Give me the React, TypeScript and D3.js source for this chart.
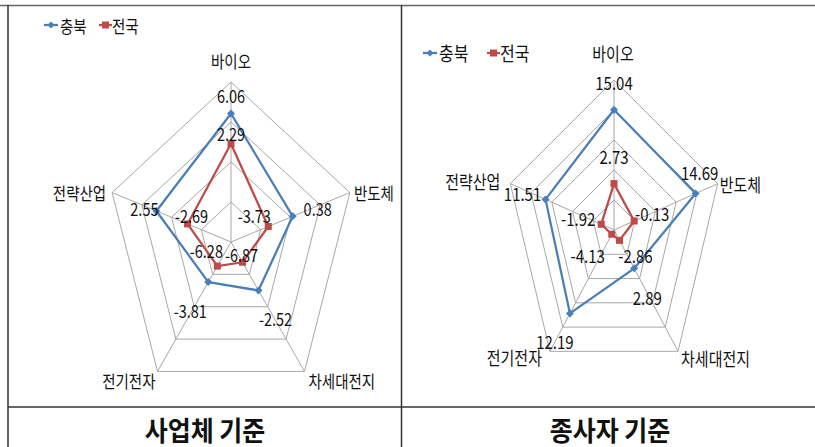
import React from "react";
import * as d3 from "d3";

const axes = ["바이오", "반도체", "차세대전지", "전기전자", "전략산업"];
const seriesNames = ["충북", "전국"];
const bizChungbuk = [6.06, 0.38, -2.52, -3.81, 2.55];
const bizNational = [2.29, -3.73, -6.87, -6.28, -2.69];
const empChungbuk = [15.04, 14.69, 2.89, 12.19, 11.51];
const empNational = [2.73, -0.13, -2.86, -4.13, -1.92];
const bizDomain = [-10, 10];
const empDomain = [-5, 20];
const tickStep = 5;
const titles = ["사업체 기준", "종사자 기준"];

const BLUE = "#4A7EBB";
const RED = "#BE4B48";
const GRID = "#A8A8A8";
const FONT = "'Noto Sans CJK KR', 'Noto Sans', sans-serif";

type Pt = [number, number];

function T(props: { x: number; y: number; anchor?: string; fs: number; sy?: number; bold?: boolean; children: React.ReactNode }) {
  const sy = props.sy ?? 1.2;
  return (
    <text
      transform={`translate(${props.x},${props.y}) scale(1,${sy})`}
      textAnchor={props.anchor ?? "middle"}
      dominantBaseline="central"
      fontSize={props.fs}
      fontWeight={props.bold ? "bold" : "normal"}
      fontFamily={FONT}
      fill="#111"
    >
      {props.children}
    </text>
  );
}

interface RadarProps {
  cx: number; cy: number; rx: number; ry: number;
  domain: number[];
  s1: number[]; s2: number[];
  off1: Pt[]; off2: Pt[];
  axisOff: { dx: number; dy: number; anchor: string }[];
  fs: number;
  legend: { x: number; y: number; fs: number; gap: number };
}

function Radar(p: RadarProps) {
  const f = d3.scaleLinear().domain(p.domain).range([0, 1]);
  const ang = d3.scaleLinear().domain([0, axes.length]).range([-Math.PI / 2, (3 * Math.PI) / 2]);
  const pos = (i: number, frac: number): Pt => [
    p.cx + p.rx * frac * Math.cos(ang(i)),
    p.cy + p.ry * frac * Math.sin(ang(i)),
  ];
  const ticks = d3.range(p.domain[0] + tickStep, p.domain[1] + 0.001, tickStep);
  const closed = d3.line<Pt>().curve(d3.curveLinearClosed);
  const pts1 = p.s1.map((v, i) => pos(i, f(v)));
  const pts2 = p.s2.map((v, i) => pos(i, f(v)));
  const L = p.legend;
  return (
    <g>
      {ticks.map((t) => (
        <path key={t} d={closed(axes.map((_, i) => pos(i, f(t))))!} fill="none" stroke={GRID} strokeWidth={1} />
      ))}
      {axes.map((_, i) => {
        const [x, y] = pos(i, 1);
        return <line key={i} x1={p.cx} y1={p.cy} x2={x} y2={y} stroke={GRID} strokeWidth={1} />;
      })}
      <path d={closed(pts1)!} fill="none" stroke={BLUE} strokeWidth={2.25} strokeLinejoin="round" />
      <path d={closed(pts2)!} fill="none" stroke={RED} strokeWidth={2.25} strokeLinejoin="round" />
      {pts1.map(([x, y], i) => (
        <path key={i} d={`M${x},${y - 4}L${x + 4},${y}L${x},${y + 4}L${x - 4},${y}Z`} fill={BLUE} />
      ))}
      {pts2.map(([x, y], i) => (
        <rect key={i} x={x - 3.5} y={y - 3.5} width={7} height={7} fill={RED} />
      ))}
      {axes.map((a, i) => {
        const [x, y] = pos(i, 1);
        const o = p.axisOff[i];
        return <T key={a} x={x + o.dx} y={y + o.dy} anchor={o.anchor} fs={p.fs}>{a}</T>;
      })}
      {p.s1.map((v, i) => (
        <T key={"a" + i} x={pts1[i][0] + p.off1[i][0]} y={pts1[i][1] + p.off1[i][1]} fs={p.fs}>{v.toFixed(2)}</T>
      ))}
      {p.s2.map((v, i) => (
        <T key={"b" + i} x={pts2[i][0] + p.off2[i][0]} y={pts2[i][1] + p.off2[i][1]} fs={p.fs}>{v.toFixed(2)}</T>
      ))}
      <g>
        <line x1={L.x} y1={L.y} x2={L.x + 14} y2={L.y} stroke={BLUE} strokeWidth={2.25} />
        <path d={`M${L.x + 7},${L.y - 3.5}L${L.x + 10.5},${L.y}L${L.x + 7},${L.y + 3.5}L${L.x + 3.5},${L.y}Z`} fill={BLUE} />
        <T x={L.x + 16} y={L.y} anchor="start" fs={L.fs}>{seriesNames[0]}</T>
        <line x1={L.x + L.gap} y1={L.y} x2={L.x + L.gap + 13} y2={L.y} stroke={RED} strokeWidth={2.25} />
        <rect x={L.x + L.gap + 3} y={L.y - 3.5} width={7} height={7} fill={RED} />
        <T x={L.x + L.gap + 13} y={L.y} anchor="start" fs={L.fs}>{seriesNames[1]}</T>
      </g>
    </g>
  );
}

export default function App() {
  const W = 815, H = 447;
  return (
    <svg width={W} height={H} style={{ position: "absolute", left: 0, top: 0, background: "#fff" }}>
      <rect x={0} y={0} width={W} height={H} fill="#fff" />
      <Radar
        cx={231} cy={242} rx={125} ry={160}
        domain={bizDomain} s1={bizChungbuk} s2={bizNational}
        off1={[[0, -18], [25, -8], [17, 28], [-18, 28], [-12, -3]]}
        off2={[[0, -10], [-14, -11], [-1, -8], [-11, -16], [4, -9]]}
        axisOff={[
          { dx: 0, dy: -22, anchor: "middle" },
          { dx: 4, dy: 0, anchor: "start" },
          { dx: 4, dy: 9, anchor: "start" },
          { dx: -2, dy: 9, anchor: "end" },
          { dx: -6, dy: 0, anchor: "end" },
        ]}
        fs={14.5}
        legend={{ x: 44, y: 25, fs: 14.5, gap: 55 }}
      />
      <Radar
        cx={614} cy={230} rx={109} ry={150}
        domain={empDomain} s1={empChungbuk} s2={empNational}
        off1={[[0, -27], [4, -21], [13, 29], [-15, 28], [-23, -6]]}
        off2={[[0, -27], [18, -8], [16, 15], [-24, 21], [-23, -6]]}
        axisOff={[
          { dx: -1, dy: -27, anchor: "middle" },
          { dx: 2, dy: 1, anchor: "start" },
          { dx: 3, dy: 7, anchor: "start" },
          { dx: -8, dy: 6, anchor: "end" },
          { dx: -10, dy: -2, anchor: "end" },
        ]}
        fs={15}
        legend={{ x: 423, y: 53, fs: 16, gap: 64 }}
      />
      <line x1={0} y1={5.5} x2={W} y2={5.5} stroke="#666" strokeWidth={1.5} />
      <line x1={8} y1={5} x2={8} y2={H} stroke="#333" strokeWidth={1.5} />
      <line x1={401.5} y1={5} x2={401.5} y2={H} stroke="#333" strokeWidth={1.5} />
      <line x1={8} y1={407} x2={W} y2={407} stroke="#333" strokeWidth={1.5} />
      {titles.map((t, i) => (
        <T key={t} x={i === 0 ? 205 : 610} y={429} fs={25} sy={1.08} bold>{t}</T>
      ))}
    </svg>
  );
}
